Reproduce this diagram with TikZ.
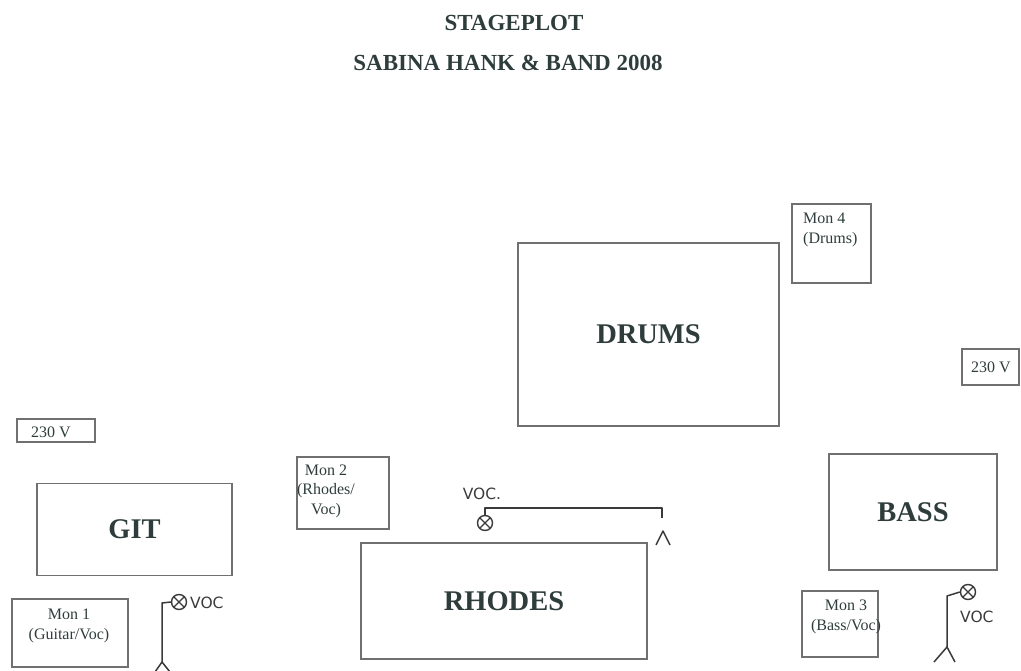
\documentclass[tikz,border=0pt]{standalone}
\usepackage{fontspec}
\setmainfont{Liberation Serif}
\newfontfamily\handfont{DejaVu Sans}
\definecolor{ink}{HTML}{2E3D3B}
\definecolor{frame}{HTML}{707070}
\definecolor{cable}{HTML}{3A3A3A}
\begin{document}
\begin{tikzpicture}[x=1pt,y=-1pt,
  box/.style={draw=frame, line width=1.2pt, inner sep=0pt},
  big/.style={font=\fontsize{28.5}{30}\selectfont\bfseries, text=ink},
  small/.style={font=\fontsize{16}{19.5}\selectfont, text=ink, align=center, inner sep=0pt},
  titlefont/.style={font=\fontsize{23}{25}\selectfont\bfseries, text=ink},
  mic/.style={circle, draw=cable, line width=1.4pt, minimum size=15pt, inner sep=0pt,
    path picture={\draw[cable, line width=1.2pt]
      (path picture bounding box.north west)--(path picture bounding box.south east)
      (path picture bounding box.north east)--(path picture bounding box.south west);}},
  cablel/.style={draw=cable, line width=1.5pt, line join=round},
  voc/.style={font=\handfont\fontsize{15.5}{15.5}\selectfont, text=cable, inner sep=0pt}]
\useasboundingbox (0,0) rectangle (1021,671);

% titles
\node[titlefont] (t1) at (514,23) {STAGEPLOT};
\node[titlefont] (t2) at (508,63) {SABINA HANK \& BAND 2008};

% drums and monitor 4
\node[box, big, minimum width=261pt, minimum height=183pt] (drums) at (648.5,334.5) {DRUMS};
\node[box, minimum width=79pt, minimum height=79pt] (mon4) at (831.5,243.5) {};
\node[small, align=left, anchor=north west] (mon4t) at (803,213) {Mon 4\\(Drums)};

% power
\node[box, minimum width=57pt, minimum height=36pt] (pwrR) at (990.5,367) {};
\node[small] (pwrRt) at (991,367) {230 V};
\node[box, minimum width=78pt, minimum height=23pt] (pwrL) at (56,430.5) {};
\node[small] (pwrLt) at (51,432) {230 V};

% guitar
\node[box, big, minimum width=195pt, minimum height=92pt] (git) at (134.5,529.5) {GIT};
\node[box, minimum width=116pt, minimum height=68pt] (mon1) at (70,633) {};
\node[small] (mon1t) at (69,626) {Mon 1\\(Guitar/Voc)};

% rhodes
\node[box, minimum width=92pt, minimum height=72pt] (mon2) at (343,493) {};
\node[small] (mon2t) at (326,491) {Mon 2\\(Rhodes/\\Voc)};
\node[box, big, minimum width=286pt, minimum height=116pt] (rhodes) at (504,601) {RHODES};

% bass
\node[box, big, minimum width=168pt, minimum height=116pt] (bass) at (913,512) {BASS};
\node[box, minimum width=76pt, minimum height=66pt] (mon3) at (840,624) {};
\node[small] (mon3t) at (846,617) {Mon 3\\(Bass/Voc)};

% vocal mic (rhodes)
\node[mic] (mic2) at (485,523) {};
\node[voc] (voc2) at (482,494) {VOC.};
\coordinate (c2a) at (485,508);
\coordinate (c2b) at (662,508);
\coordinate (c2c) at (662,518);
\draw[cablel] (mic2.north) -- (c2a) -- (c2b) -- (c2c);
\coordinate (s2) at (663,531);
\coordinate (s2l) at (656,545);
\coordinate (s2r) at (670,545);
\draw[cablel] (s2l) -- (s2) -- (s2r);

% vocal mic (guitar)
\node[mic] (mic1) at (179,602) {};
\node[voc, anchor=west] (voc1) at (190,603) {VOC};
\coordinate (c1a) at (162,603);
\coordinate (s1) at (162,662);
\coordinate (s1l) at (155,672);
\coordinate (s1r) at (170,672);
\draw[cablel] (mic1.west) -- (c1a) -- (s1);
\draw[cablel] (s1l) -- (s1) -- (s1r);

% vocal mic (bass)
\node[mic] (mic3) at (968,592) {};
\node[voc, anchor=west] (voc3) at (960,617) {VOC};
\coordinate (c3a) at (947,596);
\coordinate (s3) at (947,647);
\coordinate (s3l) at (934,662);
\coordinate (s3r) at (955,662);
\draw[cablel] (mic3.west) -- (c3a) -- (s3);
\draw[cablel] (s3l) -- (s3) -- (s3r);
\end{tikzpicture}
\end{document}
